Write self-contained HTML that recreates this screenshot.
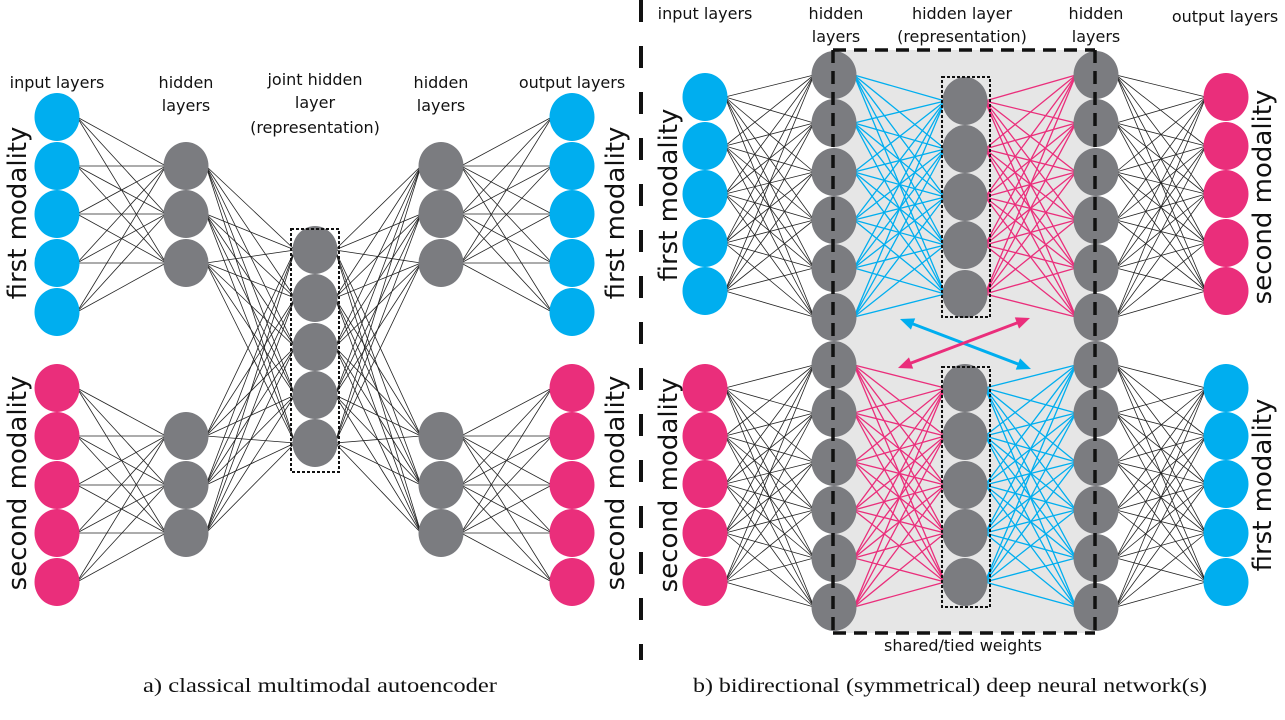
<!DOCTYPE html>
<html><head><meta charset="utf-8"><style>
html,body{margin:0;padding:0;background:#fff;}
svg{display:block;}
.t{font-family:"DejaVu Sans","Liberation Sans",sans-serif;font-size:16px;fill:#111;}
.r{font-family:"DejaVu Sans","Liberation Sans",sans-serif;font-size:26px;fill:#111;}
.c{font-family:"Liberation Serif",serif;font-size:20px;fill:#111;}
</style></head><body>
<svg id="s" width="1285" height="720" viewBox="0 0 1285 720" xmlns="http://www.w3.org/2000/svg">
<rect width="1285" height="720" fill="#fff"/>
<rect x="833" y="50" width="262" height="583" fill="#e6e6e6"/>
<g id="lines"></g>
<g id="nodes"></g>
<g fill="none" stroke="#111" stroke-width="2" stroke-dasharray="3 2">
<rect x="291" y="229" width="48" height="243"/>
<rect x="942" y="77" width="48" height="240"/>
<rect x="942" y="367" width="48" height="240"/>
</g>
<g stroke="#111" stroke-width="3.5" stroke-dasharray="13 8" fill="none">
<line x1="833" y1="50" x2="1095" y2="50"/>
<line x1="833" y1="633" x2="1095" y2="633"/>
<line x1="833" y1="50" x2="833" y2="633"/>
<line x1="1095" y1="50" x2="1095" y2="633"/>
</g>
<line x1="641" y1="0" x2="641" y2="660" stroke="#111" stroke-width="4" stroke-dasharray="22 24"/>
<g id="arrows"></g>
<g text-anchor="middle">
<text class="t" x="57" y="88">input layers</text>
<text class="t" x="186" y="88">hidden</text><text class="t" x="186" y="111">layers</text>
<text class="t" x="315" y="85">joint hidden</text><text class="t" x="315" y="108">layer</text><text class="t" x="315" y="133">(representation)</text>
<text class="t" x="441" y="88">hidden</text><text class="t" x="441" y="111">layers</text>
<text class="t" x="572" y="88">output layers</text>
<text class="t" x="705" y="19">input layers</text>
<text class="t" x="836" y="19">hidden</text><text class="t" x="836" y="42">layers</text>
<text class="t" x="962" y="19">hidden layer</text><text class="t" x="962" y="42">(representation)</text>
<text class="t" x="1096" y="19">hidden</text><text class="t" x="1096" y="42">layers</text>
<text class="t" x="1225" y="22">output layers</text>
<text class="t" x="963" y="651">shared/tied weights</text>
<text class="r" transform="translate(26,213) rotate(-90)">first modality</text>
<text class="r" transform="translate(26,483) rotate(-90)">second modality</text>
<text class="r" transform="translate(624,213) rotate(-90)">first modality</text>
<text class="r" transform="translate(624,483) rotate(-90)">second modality</text>
<text class="r" transform="translate(677,195) rotate(-90)">first modality</text>
<text class="r" transform="translate(677,485) rotate(-90)">second modality</text>
<text class="r" transform="translate(1271,197) rotate(-90)">second modality</text>
<text class="r" transform="translate(1271,485) rotate(-90)">first modality</text>
<text class="c" x="320" y="692" textLength="354" lengthAdjust="spacingAndGlyphs">a) classical multimodal autoencoder</text>
<text class="c" x="950" y="692" textLength="514" lengthAdjust="spacingAndGlyphs">b) bidirectional (symmetrical) deep neural network(s)</text>
</g>
</svg>
<script>
var NS="http://www.w3.org/2000/svg";
var B="#00aeef",P="#ea2e7b",G="#7b7c80";
var L=document.getElementById("lines"),N=document.getElementById("nodes"),A=document.getElementById("arrows");
function el(p,t,a){var e=document.createElementNS(NS,t);for(var k in a)e.setAttribute(k,a[k]);p.appendChild(e);return e;}
function conn(x1,ys1,x2,ys2,col,w){ys1.forEach(function(a){ys2.forEach(function(b){el(L,"line",{x1:x1+20,y1:a,x2:x2-20,y2:b,stroke:col,"stroke-width":w});});});}
function nodes(x,ys,col){ys.forEach(function(y){el(N,"ellipse",{cx:x,cy:y,rx:22.5,ry:24,fill:col});});}
// left panel
var inT=[117,166,214,263,312],inB=[388,436,485,533,582];
var hT=[166,214,263],hB=[436,485,533],J=[250,298,347,395,443];
conn(57,inT,186,hT,"#222",0.8);conn(57,inB,186,hB,"#222",0.8);
conn(186,hT.concat(hB),315,J,"#222",0.8);
conn(315,J,441,hT.concat(hB),"#222",0.8);
conn(441,hT,572,inT,"#222",0.8);conn(441,hB,572,inB,"#222",0.8);
nodes(57,inT,B);nodes(57,inB,P);nodes(186,hT.concat(hB),G);nodes(315,J,G);nodes(441,hT.concat(hB),G);nodes(572,inT,B);nodes(572,inB,P);
// right panel
var rT=[97,146,194,243,291],rB=[388,436,484,533,582];
var H=[75,123,172,220,268,317,365,413,462,510,558,607],HT=H.slice(0,6),HB=H.slice(6);
var RT=[101,149,197,245,294],RB=[388,436,485,533,582];
conn(705,rT,834,HT,"#222",0.8);conn(705,rB,834,HB,"#222",0.8);
conn(834,HT,965,RT,B,1.3);conn(965,RT,1096,HT,P,1.3);
conn(834,HB,965,RB,P,1.3);conn(965,RB,1096,HB,B,1.3);
conn(1096,HT,1226,rT,"#222",0.8);conn(1096,HB,1226,rB,"#222",0.8);
nodes(705,rT,B);nodes(705,rB,P);nodes(834,H,G);nodes(965,RT,G);nodes(965,RB,G);nodes(1096,H,G);nodes(1226,rT,P);nodes(1226,rB,B);
// arrows
function arrow(x1,y1,x2,y2,col){
 var dx=x2-x1,dy=y2-y1,l=Math.sqrt(dx*dx+dy*dy),ux=dx/l,uy=dy/l,h=14,w=6;
 el(A,"line",{x1:x1+ux*h*0.8,y1:y1+uy*h*0.8,x2:x2-ux*h*0.8,y2:y2-uy*h*0.8,stroke:col,"stroke-width":3});
 [[x2,y2,1],[x1,y1,-1]].forEach(function(p){var tx=p[0],ty=p[1],s=p[2];var bx=tx-s*ux*h,by=ty-s*uy*h;
 el(A,"polygon",{points:tx+","+ty+" "+(bx-uy*w)+","+(by+ux*w)+" "+(bx+uy*w)+","+(by-ux*w),fill:col});});
}
arrow(900,319,1031,369,B);arrow(1030,318,898,368,P);
</script>
</body></html>
